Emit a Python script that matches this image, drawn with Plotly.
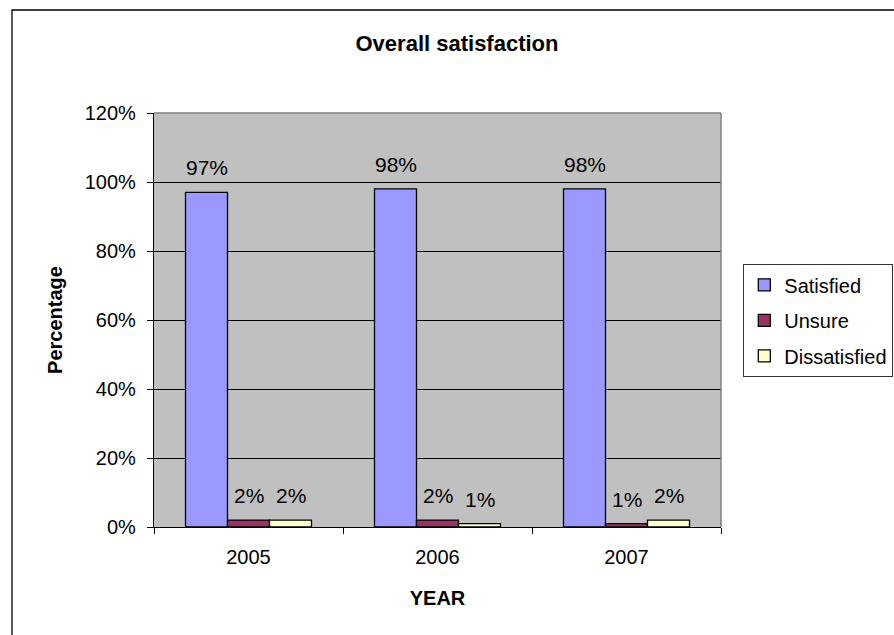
import plotly.graph_objects as go

years = ["2005", "2006", "2007"]
series_names = ["Satisfied", "Unsure", "Dissatisfied"]
satisfied = [0.97, 0.98, 0.98]
unsure = [0.02, 0.02, 0.01]
dissatisfied = [0.02, 0.01, 0.02]
y_ticks = [0, 0.2, 0.4, 0.6, 0.8, 1.0, 1.2]

series_values = [satisfied, unsure, dissatisfied]
colors = ["#9999FF", "#993366", "#FFFFCC"]
FONT = "Liberation Sans, Arial, sans-serif"
BARGAP = 1 / 3

W, H = 894, 635
L, R, T, B = 154, 894 - 721, 113, 635 - 527

fig = go.Figure()
for name, vals, col in zip(series_names, series_values, colors):
    fig.add_trace(go.Bar(
        name=name, x=years, y=vals, legendgroup=name,
        marker=dict(color=col, line=dict(color="black", width=1.3)),
        hoverinfo="skip",
    ))

# data labels above bars, positioned from the category scale
n = len(series_names)
bw = (1 - BARGAP) / n
annotations = []
for i, vals in enumerate(series_values):
    off = (i - (n - 1) / 2) * bw
    for j, v in enumerate(vals):
        annotations.append(dict(
            x=j + off, y=v, xref="x", yref="y",
            text=f"{round(v * 100)}%", showarrow=False,
            yanchor="bottom", yshift=11,
            font=dict(family=FONT, size=21, color="black"),
        ))

px_w = W - L - R
px_h = H - T - B
shapes = [
    dict(type="rect", xref="paper", yref="paper",
         x0=(12 - L) / px_w, x1=3, y0=-3, y1=(H - B - 10) / px_h,
         line=dict(color="black", width=1.3), fillcolor="rgba(0,0,0,0)", layer="below"),
    dict(type="line", xref="x domain", yref="y domain", x0=0, x1=1, y0=1, y1=1,
         line=dict(color="#808080", width=1.5), layer="above"),
    dict(type="line", xref="x domain", yref="y domain", x0=1, x1=1, y0=0, y1=1,
         line=dict(color="#808080", width=1.5), layer="above"),
]

fig.update_layout(
    width=W, height=H,
    margin=dict(l=L, r=R, t=T, b=B, pad=0),
    barmode="group", bargap=BARGAP, bargroupgap=0,
    plot_bgcolor="#C0C0C0", paper_bgcolor="white",
    font=dict(family=FONT, size=20, color="black"),
    title=dict(text="<b>Overall satisfaction</b>", x=457 / W, xanchor="center",
               y=1 - 43 / H, yanchor="middle", xref="container", yref="container",
               font=dict(family=FONT, size=22, color="black")),
    xaxis=dict(
        type="category", showline=True, linecolor="black", linewidth=1.3,
        ticks="outside", tickson="boundaries", ticklen=6, tickcolor="black",
        tickfont=dict(size=20), showgrid=False, fixedrange=True,
        ticklabelstandoff=12,
        title=dict(text="<b>YEAR</b>", font=dict(size=20), standoff=23),
    ),
    yaxis=dict(
        range=[0, 1.2], tickvals=y_ticks, tickformat=".0%",
        showline=True, linecolor="black", linewidth=1.3,
        ticks="outside", ticklen=6, tickcolor="black", tickfont=dict(size=20),
        ticklabelstandoff=7,
        showgrid=True, gridcolor="black", gridwidth=1, zeroline=False,
        title=dict(text="<b>Percentage</b>", font=dict(size=20), standoff=16),
        fixedrange=True,
    ),
    legend=dict(
        xref="container", yref="container", x=743 / W, y=1 - 264 / H,
        xanchor="left", yanchor="top",
        bordercolor="#333333", borderwidth=1.3, bgcolor="white",
        font=dict(family=FONT, size=20, color="black"),
        tracegroupgap=6.5, traceorder="grouped",
    ),
    annotations=annotations,
    shapes=shapes,
)

fig.write_html("out.html", config={"displayModeBar": False},
               post_script="document.body.style.margin='0px';")
